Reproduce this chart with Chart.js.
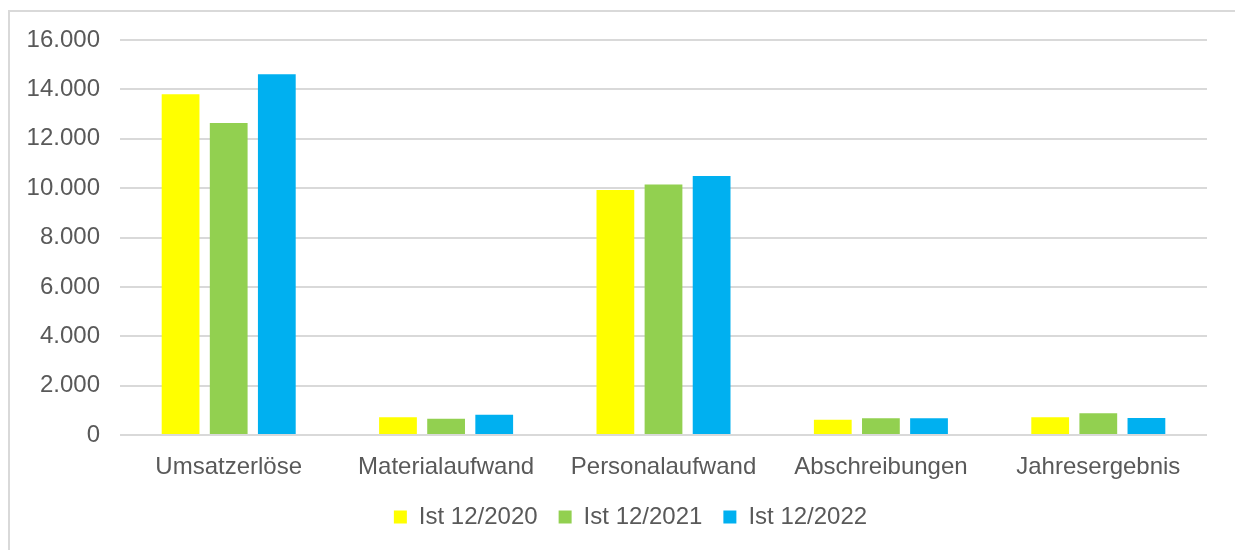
<!DOCTYPE html>
<html lang="de">
<head>
<meta charset="utf-8">
<title>Kennzahlen 2020–2022</title>
<script src="https://cdn.jsdelivr.net/npm/chart.js@4.4.1/dist/chart.umd.min.js"></script>
<style>
  html, body { margin: 0; padding: 0; background: #fff; overflow: hidden; }
  .frame {
    position: absolute; left: 8px; top: 10px; right: -20px; bottom: -20px;
    border: 2px solid #d9d9d9;
  }
  #chart { position: absolute; left: 0; top: 0; }
</style>
</head>
<body>
<div class="frame"></div>
<canvas id="chart" width="1235" height="560"></canvas>
<script>
// ── Daten ─────────────────────────────────────────────────────────────────────
const categories = ['Umsatzerlöse', 'Materialaufwand', 'Personalaufwand', 'Abschreibungen', 'Jahresergebnis'];
const ist2020    = [13800, 720, 9920, 620, 717];
const ist2021    = [12640, 660, 10150, 675, 880];
const ist2022    = [14610, 820, 10490, 675, 690];
const yTicks     = [0, 2000, 4000, 6000, 8000, 10000, 12000, 14000, 16000];

const TEXT  = '#595959';
const GRID  = '#d9d9d9';
const FONT  = { family: "'Liberation Sans', Arial, sans-serif", size: 24 };

// Tausenderpunkt wie im Deutschen
const fmtDe = v => String(v).replace(/\B(?=(\d{3})+(?!\d))/g, '.');

const bar = (label, data, color) => ({
  label, data,
  backgroundColor: color,
  borderWidth: 0,
  categoryPercentage: 0.664,
  barPercentage: 0.785,
});

// Legende ein Stück nach rechts schieben (sitzt nicht ganz mittig)
const legendShift = {
  id: 'legendShift',
  afterLayout(chart) {
    if (!chart.legend) return;
    chart.legend.left  += 27;
    chart.legend.right += 27;
  },
};

new Chart(document.getElementById('chart'), {
  type: 'bar',
  data: {
    labels: categories,
    datasets: [
      bar('Ist 12/2020', ist2020, '#ffff00'),
      bar('Ist 12/2021', ist2021, '#92d050'),
      bar('Ist 12/2022', ist2022, '#00b0f0'),
    ],
  },
  options: {
    responsive: false, animation: false,
    layout: { padding: { left: 0, right: 28, top: 40, bottom: 21 } },
    plugins: {
      tooltip: { enabled: false },
      legend: {
        position: 'bottom',
        labels: { font: FONT, color: TEXT, boxWidth: 13, boxHeight: 13, padding: 21 },
      },
    },
    scales: {
      y: {
        min: 0, max: 16000,
        afterFit: s => { s.width = 120; },
        afterBuildTicks: s => { s.ticks = yTicks.map(v => ({ value: v })); },
        border: { display: false },
        grid: { color: GRID, lineWidth: 2, drawTicks: false },
        ticks: { font: FONT, color: TEXT, padding: 20, callback: v => fmtDe(v) },
      },
      x: {
        afterFit: s => { s.height = 49; },
        border: { display: false },
        grid: { display: false },
        ticks: { font: FONT, color: TEXT, padding: 10 },
      },
    },
  },
  plugins: [legendShift],
});
</script>
</body>
</html>
